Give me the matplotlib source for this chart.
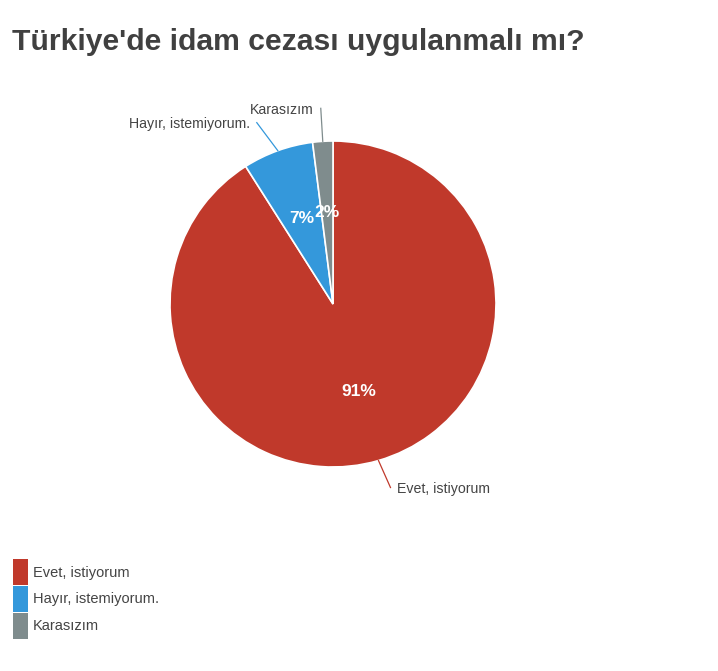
import numpy as np
import matplotlib.pyplot as plt
from matplotlib.patches import Patch

plt.rcParams['font.family'] = ['Liberation Sans', 'DejaVu Sans']

title = "Türkiye'de idam cezası uygulanmalı mı?"
labels = ['Evet, istiyorum', 'Hayır, istemiyorum.', 'Karasızım']
values = [91, 7, 2]
colors = ['#c0392b', '#3498db', '#7f8c8d']

W, H = 718, 671
fig = plt.figure(figsize=(W / 100, H / 100), dpi=100)

# pie area in pixels: centre (333, 304), radius 163
cx, cy, r = 333, 304, 163
ax = fig.add_axes([(cx - r) / W, (H - cy - r) / H, 2 * r / W, 2 * r / H])
wedges, texts = ax.pie(values, colors=colors, startangle=90, counterclock=False,
                       radius=1, wedgeprops=dict(edgecolor='white', linewidth=1.2))
ax.set_xlim(-1, 1)
ax.set_ylim(-1, 1)
ax.set_aspect('equal')
ax.axis('off')

total = sum(values)
# leader line offsets (px) and text alignment per slice
leader = {
    'Evet, istiyorum': ((12, -27), 'left'),
    'Hayır, istemiyorum.': ((-21, 28), 'right'),
    'Karasızım': ((-2, 33), 'right'),
}
for w, lab, v, c in zip(wedges, labels, values, colors):
    mid = np.deg2rad((w.theta1 + w.theta2) / 2)
    ex, ey = np.cos(mid), np.sin(mid)
    # percentage
    ax.text(0.56 * ex, 0.56 * ey, f'{round(100 * v / total)}%', color='white',
            fontsize=12.5, fontweight='bold', ha='center', va='center')
    (dx, dy), ha = leader[lab]
    lx, ly = ex + dx / r, ey + dy / r
    ax.plot([ex, lx], [ey, ly], color=c, lw=0.9, clip_on=False)
    tx = lx + (7 / r if ha == 'left' else -7 / r)
    ax.text(tx, ly - 1.5 / r, lab, ha=ha, va='center', fontsize=10.2,
            color='#444444', clip_on=False)

fig.text(12 / W, 1 - 50 / H, title, fontsize=21.7, fontweight='bold',
         color='#404040', ha='left', va='baseline')

handles = [Patch(facecolor=c, edgecolor='none') for c in colors]
fig.legend(handles, labels, loc='upper left', bbox_to_anchor=(13 / W, 1 - 559 / H),
           frameon=False, fontsize=10.5, handlelength=1.03, handleheight=2.37,
           handletextpad=0.35, labelspacing=0.05, borderpad=0, borderaxespad=0,
           labelcolor='#444444')

fig.savefig('out.png', dpi=100)
